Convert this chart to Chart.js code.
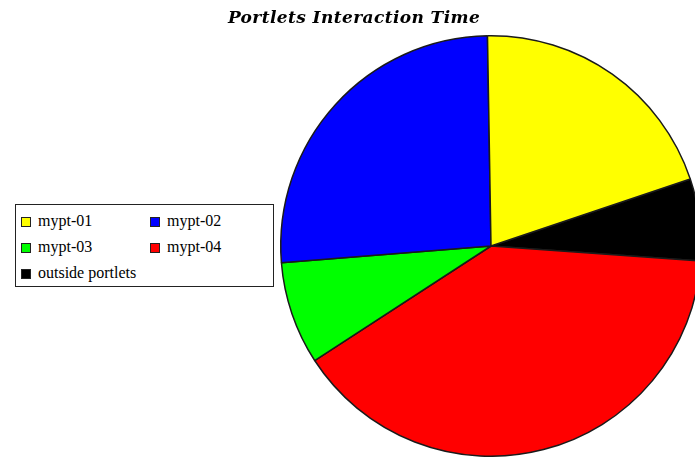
<!DOCTYPE html>
<html>
<head>
<meta charset="utf-8">
<script src="https://cdn.jsdelivr.net/npm/chart.js@4/dist/chart.umd.min.js"></script>
<style>
  html, body { margin: 0; padding: 0; background: #ffffff; }
  #wrap { position: relative; width: 695px; height: 457px; overflow: hidden; background: #ffffff; }
  #pie { position: absolute; left: 0; top: 0; }
  #legend {
    position: absolute; left: 15px; top: 204px; width: 257px; height: 81px;
    border: 1px solid #222; background: #ffffff;
    font-family: "Liberation Serif", "Times New Roman", serif; font-size: 16px; color: #000;
  }
  .item { position: absolute; white-space: nowrap; line-height: 16px; }
  .swatch { position: absolute; width: 8px; height: 8px; border: 1px solid #222; }
</style>
</head>
<body>
<div id="wrap">
  <canvas id="pie" width="720" height="457"></canvas>
  <div id="legend"></div>
</div>
<script>
// Portlet names and their share of interaction time (%)
const categories = ['mypt-01', 'mypt-02', 'mypt-03', 'mypt-04', 'outside portlets'];
const shares = [20.1, 26.0, 7.9, 39.7, 6.3];
const colors = ['#ffff00', '#0000ff', '#00ff00', '#ff0000', '#000000'];
const chartTitle = 'Portlets Interaction Time';

// Legend: two columns, row by row
const legend = document.getElementById('legend');
categories.forEach((name, i) => {
  const col = i % 2, row = Math.floor(i / 2);
  const left = col === 0 ? 5 : 134;
  const top = 8 + row * 26;
  const sw = document.createElement('span');
  sw.className = 'swatch';
  sw.style.left = left + 'px';
  sw.style.top = (top + 4) + 'px';
  sw.style.background = colors[i];
  legend.appendChild(sw);
  const tx = document.createElement('span');
  tx.className = 'item';
  tx.style.left = (left + 17) + 'px';
  tx.style.top = top + 'px';
  tx.textContent = name;
  legend.appendChild(tx);
});

// Title drawn over the canvas, centred on the page rather than on the pie
const titlePlugin = {
  id: 'pageTitle',
  afterDraw(chart) {
    const ctx = chart.ctx;
    ctx.save();
    ctx.font = 'italic bold 17px "DejaVu Serif", serif';
    ctx.letterSpacing = '0.4px';
    ctx.fillStyle = '#000';
    ctx.textAlign = 'center';
    ctx.textBaseline = 'alphabetic';
    ctx.fillText(chartTitle, 354, 23);
    ctx.restore();
  }
};

// Slices go clockwise in reverse legend order
new Chart(document.getElementById('pie'), {
  type: 'pie',
  data: {
    labels: categories.slice().reverse(),
    datasets: [{
      data: shares.slice().reverse(),
      backgroundColor: colors.slice().reverse(),
      borderColor: '#1a1a1a',
      borderWidth: 1.5
    }]
  },
  options: {
    responsive: false,
    devicePixelRatio: 1,
    animation: false,
    rotation: 71.4,
    layout: { padding: { left: 280, right: 18, top: 35, bottom: 0 } },
    plugins: {
      legend: { display: false },
      title: { display: false },
      tooltip: { enabled: false }
    }
  },
  plugins: [titlePlugin]
});
</script>
</body>
</html>
